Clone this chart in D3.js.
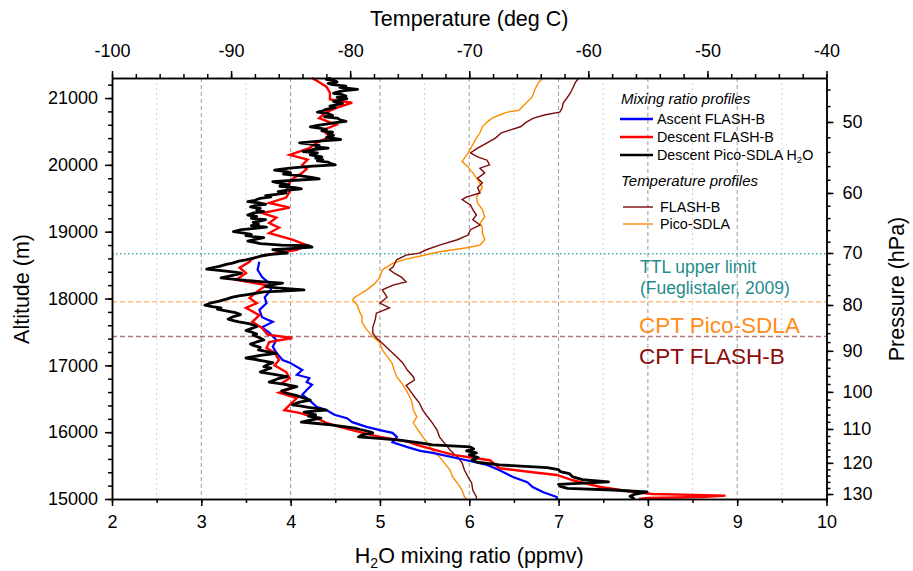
<!DOCTYPE html>
<html>
<head>
<meta charset="utf-8">
<script src="https://cdnjs.cloudflare.com/ajax/libs/d3/7.8.5/d3.min.js"></script>
<style>
body { margin: 0; background: #fff; }
text { font-family: "Liberation Sans", Arial, sans-serif; }
</style>
</head>
<body>
<div id="container"></div>
<script>
// profiles: [altitude (m), value]
var ascentFlashB = [
  [18550, 3.65], [18430, 3.63], [18320, 3.68], [18230, 3.76], [18130, 3.78], [18020, 3.71],
  [17930, 3.73], [17830, 3.65], [17720, 3.68], [17650, 3.80], [17570, 3.68], [17490, 3.76],
  [17380, 3.84], [17280, 3.80], [17190, 3.84], [17080, 3.91], [17040, 3.99], [16930, 4.13],
  [16860, 4.07], [16810, 4.21], [16750, 4.18], [16710, 4.24], [16630, 4.18], [16560, 4.13],
  [16480, 4.21], [16380, 4.29], [16330, 4.40], [16260, 4.49], [16210, 4.63], [16150, 4.69],
  [16080, 4.85], [16030, 5.00], [15990, 5.14], [15930, 5.19], [15850, 5.14], [15780, 5.30],
  [15720, 5.45], [15690, 5.59], [15580, 5.97], [15510, 6.20], [15430, 6.34], [15330, 6.49],
  [15250, 6.65], [15180, 6.71], [15100, 6.83], [15030, 6.98], [15000, 6.98]
];

var descentFlashB = [
  [21300, 4.24], [21230, 4.33], [21170, 4.40], [21080, 4.44], [20980, 4.44], [20930, 4.69],
  [20870, 4.55], [20790, 4.40], [20700, 4.32], [20600, 4.51], [20520, 4.36], [20420, 4.44],
  [20330, 4.29], [20250, 4.21], [20150, 3.99], [20080, 4.19], [20000, 4.13], [19940, 4.18],
  [19880, 4.13], [19780, 4.01], [19670, 3.96], [19600, 3.99], [19510, 3.95], [19430, 3.76],
  [19360, 3.99], [19280, 3.68], [19210, 3.84], [19130, 3.76], [19060, 3.87], [18980, 3.76],
  [18880, 4.02], [18800, 4.18], [18730, 4.07], [18650, 3.72], [18600, 3.57], [18550, 3.54],
  [18460, 3.43], [18380, 3.50], [18280, 3.39], [18200, 3.73], [18100, 3.62], [18010, 3.54],
  [17930, 3.62], [17860, 3.50], [17750, 3.65], [17650, 3.57], [17560, 3.68], [17460, 3.74],
  [17410, 4.02], [17350, 3.76], [17260, 3.73], [17190, 3.82], [17080, 3.87], [17000, 3.82],
  [16900, 3.95], [16810, 3.99], [16740, 3.91], [16660, 4.02], [16590, 3.87], [16510, 4.07],
  [16410, 3.99], [16330, 3.93], [16290, 4.10], [16210, 4.29], [16140, 4.40], [16080, 4.55],
  [16030, 4.69], [15990, 4.81], [15930, 5.00], [15880, 5.22], [15850, 5.33], [15810, 5.41],
  [15660, 5.82], [15580, 6.23], [15460, 6.34], [15400, 6.71], [15360, 6.98], [15280, 7.16],
  [15180, 7.47], [15105, 7.84], [15075, 8.05], [15050, 8.87], [15030, 8.60], [15015, 8.00],
  [15000, 7.90]
];

var descentPicoH2O = [
  [21300, 4.45], [21280, 4.40], [21260, 4.50], [21240, 4.52], [21220, 4.42], [21200, 4.47],
  [21180, 4.62], [21160, 4.55], [21130, 4.75], [21110, 4.60], [21090, 4.52], [21070, 4.48],
  [21050, 4.58], [21030, 4.62], [21010, 4.52], [20990, 4.63], [20970, 4.55], [20950, 4.48],
  [20920, 4.58], [20900, 4.52], [20880, 4.44], [20860, 4.50], [20830, 4.40], [20810, 4.36],
  [20790, 4.30], [20770, 4.42], [20740, 4.47], [20720, 4.38], [20700, 4.52], [20670, 4.56],
  [20650, 4.62], [20630, 4.48], [20610, 4.40], [20590, 4.30], [20570, 4.22], [20550, 4.32],
  [20530, 4.40], [20510, 4.35], [20490, 4.47], [20460, 4.42], [20440, 4.48], [20410, 4.40],
  [20380, 4.56], [20360, 4.35], [20330, 4.10], [20310, 4.22], [20290, 4.32], [20270, 4.28],
  [20250, 4.42], [20230, 4.25], [20200, 4.14], [20180, 4.30], [20150, 4.22], [20120, 4.35],
  [20100, 4.28], [20080, 4.36], [20060, 4.30], [20040, 4.42], [20020, 4.45], [20000, 4.50],
  [19980, 4.25], [19960, 4.05], [19940, 3.92], [19920, 3.82], [19900, 3.95], [19880, 4.00],
  [19860, 3.92], [19840, 4.10], [19810, 4.25], [19790, 4.32], [19770, 4.05], [19750, 3.80],
  [19720, 3.90], [19700, 3.98], [19680, 3.88], [19660, 4.05], [19640, 4.12], [19620, 3.95],
  [19600, 3.86], [19580, 3.95], [19560, 3.84], [19540, 3.72], [19520, 3.78], [19500, 3.66],
  [19470, 3.60], [19450, 3.52], [19430, 3.65], [19410, 3.72], [19390, 3.60], [19370, 3.55],
  [19350, 3.66], [19320, 3.62], [19300, 3.70], [19280, 3.58], [19250, 3.52], [19230, 3.62],
  [19200, 3.56], [19180, 3.72], [19160, 3.66], [19140, 3.58], [19110, 3.64], [19090, 3.56],
  [19070, 3.73], [19050, 3.60], [19030, 3.45], [19000, 3.36], [18980, 3.48], [18960, 3.56],
  [18940, 3.50], [18910, 3.70], [18890, 3.62], [18860, 3.52], [18840, 3.60], [18820, 3.66],
  [18800, 3.90], [18790, 4.20], [18770, 4.24], [18750, 4.05], [18730, 3.80], [18700, 3.92],
  [18680, 3.96], [18660, 3.78], [18640, 3.68], [18610, 3.60], [18580, 3.50], [18560, 3.42],
  [18530, 3.35], [18510, 3.28], [18480, 3.20], [18460, 3.12], [18440, 3.06], [18420, 3.20],
  [18400, 3.35], [18380, 3.45], [18360, 3.40], [18330, 3.30], [18310, 3.22], [18290, 3.35],
  [18270, 3.50], [18250, 3.70], [18230, 3.91], [18210, 3.82], [18180, 3.72], [18160, 3.85],
  [18130, 4.15], [18110, 3.90], [18100, 3.70], [18080, 3.62], [18060, 3.52], [18040, 3.42],
  [18020, 3.35], [17990, 3.28], [17960, 3.20], [17930, 3.10], [17900, 3.04], [17880, 3.12],
  [17860, 3.22], [17840, 3.18], [17820, 3.26], [17790, 3.38], [17760, 3.44], [17730, 3.36],
  [17690, 3.30], [17670, 3.36], [17650, 3.42], [17620, 3.55], [17580, 3.62], [17550, 3.56],
  [17520, 3.50], [17500, 3.56], [17470, 3.62], [17450, 3.58], [17420, 3.64], [17380, 3.70],
  [17350, 3.62], [17320, 3.55], [17300, 3.58], [17270, 3.66], [17230, 3.64], [17200, 3.75],
  [17180, 3.84], [17150, 3.66], [17110, 3.50], [17080, 3.64], [17040, 3.80], [17010, 3.74],
  [16980, 3.70], [16960, 3.78], [16930, 3.72], [16900, 3.66], [16870, 3.80], [16830, 3.96],
  [16800, 3.86], [16750, 3.76], [16720, 3.92], [16680, 4.07], [16650, 3.98], [16620, 3.90],
  [16590, 3.94], [16550, 4.06], [16510, 4.15], [16480, 4.22], [16450, 4.10], [16410, 4.02],
  [16390, 4.12], [16370, 4.20], [16350, 4.32], [16330, 4.40], [16310, 4.22], [16300, 4.15],
  [16280, 4.22], [16260, 4.28], [16240, 4.20], [16210, 4.34], [16180, 4.22], [16150, 4.12],
  [16130, 4.30], [16110, 4.45], [16080, 4.62], [16060, 4.72], [16040, 4.78], [16010, 4.88],
  [15990, 4.92], [15960, 4.80], [15930, 4.76], [15910, 4.95], [15880, 5.22], [15840, 5.45],
  [15810, 5.59], [15780, 6.01], [15750, 6.05], [15720, 5.97], [15690, 6.08], [15660, 6.00],
  [15620, 6.10], [15580, 6.03], [15550, 6.09], [15510, 6.34], [15470, 6.87], [15440, 7.00],
  [15410, 7.02], [15380, 7.12], [15330, 7.16], [15290, 7.27], [15255, 7.56], [15220, 7.00],
  [15190, 7.02], [15160, 7.10], [15135, 7.61], [15105, 7.99], [15070, 7.85], [15040, 7.80],
  [15010, 7.84], [15000, 7.84]
];

// temperature profiles: [altitude (m), deg C]
var tempFlashB = [
  [21300, -60.8], [21230, -61.1], [21150, -61.3], [21080, -61.5], [21000, -61.8], [20930, -62.1],
  [20850, -62.2], [20790, -62.4], [20750, -63.6], [20700, -64.6], [20640, -65.2], [20570, -65.7],
  [20520, -66.6], [20480, -67.3], [20400, -67.8], [20330, -68.5], [20250, -69.3], [20180, -69.9],
  [20120, -69.3], [20070, -68.5], [20000, -68.3], [19950, -69.1], [19880, -68.7], [19800, -69.3],
  [19730, -68.9], [19660, -69.3], [19580, -69.1], [19520, -70.2], [19480, -70.6], [19400, -69.9],
  [19330, -69.7], [19250, -69.4], [19180, -69.7], [19100, -69.1], [19030, -69.9], [18950, -70.1],
  [18880, -71.0], [18800, -72.5], [18730, -73.6], [18680, -74.2], [18650, -75.3], [18580, -76.1],
  [18470, -76.4], [18430, -76.7], [18380, -76.3], [18320, -75.7], [18250, -75.3], [18200, -76.4],
  [18130, -77.3], [18020, -76.9], [17930, -77.5], [17860, -76.7], [17780, -77.8], [17680, -77.9],
  [17570, -78.1], [17480, -78.1], [17410, -77.8], [17330, -77.3], [17230, -76.7], [17130, -76.1],
  [17040, -75.6], [16930, -75.2], [16830, -74.7], [16780, -74.6], [16700, -75.3], [16630, -75.0],
  [16530, -74.6], [16440, -74.2], [16330, -73.9], [16230, -73.5], [16140, -73.1], [16030, -72.7],
  [15930, -72.5], [15840, -72.1], [15730, -71.6], [15630, -71.0], [15540, -70.6], [15430, -70.4],
  [15330, -70.1], [15240, -69.8], [15130, -69.7], [15030, -69.4], [15000, -69.4]
];

var tempPico = [
  [21300, -63.8], [21230, -64.2], [21120, -64.5], [21020, -64.7], [20930, -65.2], [20820, -65.8],
  [20790, -66.8], [20750, -67.4], [20700, -68.1], [20640, -68.5], [20570, -68.9], [20480, -69.1],
  [20370, -69.5], [20270, -69.8], [20180, -70.1], [20100, -70.4], [20050, -70.6], [19970, -70.1],
  [19880, -69.7], [19780, -69.3], [19670, -68.9], [19600, -69.1], [19520, -69.4], [19430, -69.3],
  [19330, -68.9], [19220, -68.7], [19130, -69.1], [19060, -68.9], [18980, -68.9], [18880, -68.7],
  [18800, -69.1], [18760, -70.2], [18700, -72.5], [18640, -74.0], [18590, -75.3], [18530, -76.4],
  [18430, -77.3], [18320, -77.5], [18230, -77.9], [18130, -78.6], [18020, -79.6], [17980, -79.8],
  [17900, -79.4], [17800, -79.2], [17730, -79.0], [17640, -79.0], [17530, -78.6], [17430, -78.1],
  [17340, -77.5], [17230, -77.3], [17130, -76.9], [17040, -76.5], [16930, -76.3], [16830, -76.1],
  [16740, -75.7], [16630, -75.3], [16530, -75.0], [16440, -74.8], [16330, -74.7], [16230, -74.4],
  [16140, -74.7], [16030, -74.3], [15930, -73.9], [15840, -73.5], [15730, -73.1], [15630, -72.5],
  [15540, -72.1], [15430, -71.6], [15330, -71.4], [15240, -71.0], [15130, -70.6], [15030, -70.4],
  [15000, -70.2]
];

// reference levels (m)
var ttlAltitude = 18670;
var cptPicoAltitude = 17950;
var cptFlashAltitude = 17430;

// ticks
var altTicks = [15000, 16000, 17000, 18000, 19000, 20000, 21000];
var mixTicks = [2, 3, 4, 5, 6, 7, 8, 9, 10];
var tempTicks = [-100, -90, -80, -70, -60, -50, -40];
var pressureTicks = [50, 60, 70, 80, 90, 100, 110, 120, 130];

var width = 913, height = 571;
var margin = {top: 78, right: 86.5, bottom: 72, left: 112};
var w = width - margin.left - margin.right,
    h = height - margin.top - margin.bottom;

var svg = d3.select("#container").append("svg")
    .attr("width", width)
    .attr("height", height);

var g = svg.append("g")
    .attr("transform", "translate(" + margin.left + "," + margin.top + ")");

var x = d3.scaleLinear().domain([2, 10]).range([0, w]);
var xT = d3.scaleLinear().domain([-100, -40]).range([0, w]);
var y = d3.scaleLinear().domain([15000, 21300]).range([h, 0]);
var yP = d3.scaleLog().domain([44.66, 131.67]).range([0, h]);

// vertical grid: dashed at integers, light dotted at halves
var gridVals = d3.range(2.5, 10, 0.5);
g.selectAll(".grid").data(gridVals).enter().append("line")
    .attr("x1", function(d) { return x(d); })
    .attr("x2", function(d) { return x(d); })
    .attr("y1", 0).attr("y2", h)
    .attr("stroke", function(d) { return d % 1 === 0 ? "#9a9a9a" : "#d2d2d2"; })
    .attr("stroke-width", 1)
    .attr("stroke-dasharray", function(d) { return d % 1 === 0 ? "4,3" : "2,3"; });

// horizontal reference levels
g.append("line").attr("x1", 0).attr("x2", w)
    .attr("y1", y(ttlAltitude)).attr("y2", y(ttlAltitude))
    .attr("stroke", "#45a9a9").attr("stroke-width", 1.3).attr("stroke-dasharray", "1.5,2.5");
g.append("line").attr("x1", 0).attr("x2", w)
    .attr("y1", y(cptPicoAltitude)).attr("y2", y(cptPicoAltitude))
    .attr("stroke", "#ffbb80").attr("stroke-width", 1.5).attr("stroke-dasharray", "5,3");
g.append("line").attr("x1", 0).attr("x2", w)
    .attr("y1", y(cptFlashAltitude)).attr("y2", y(cptFlashAltitude))
    .attr("stroke", "#b57a7a").attr("stroke-width", 1.5).attr("stroke-dasharray", "5,3");

var mixLine = d3.line()
    .x(function(d) { return x(d[1]); })
    .y(function(d) { return y(d[0]); });
var tempLine = d3.line()
    .x(function(d) { return xT(d[1]); })
    .y(function(d) { return y(d[0]); });

var plot = g.append("g");

plot.append("path").datum(tempPico)
    .attr("d", tempLine).attr("fill", "none")
    .attr("stroke", "#ff8c00").attr("stroke-width", 1.4);
plot.append("path").datum(tempFlashB)
    .attr("d", tempLine).attr("fill", "none")
    .attr("stroke", "#7b0a0a").attr("stroke-width", 1.4);

plot.append("path").datum(ascentFlashB)
    .attr("d", mixLine).attr("fill", "none")
    .attr("stroke", "#0000ff").attr("stroke-width", 2.2);
plot.append("path").datum(descentFlashB)
    .attr("d", mixLine).attr("fill", "none")
    .attr("stroke", "#ff0000").attr("stroke-width", 2.4);
plot.append("path").datum(descentPicoH2O)
    .attr("d", mixLine).attr("fill", "none")
    .attr("stroke", "#000").attr("stroke-width", 2.8)
    .attr("stroke-linejoin", "round");

// axes
function styleAxis(sel) {
  sel.selectAll("path, line").attr("stroke", "#000").attr("stroke-width", 1.5);
  sel.selectAll("text").attr("font-size", "18px").attr("fill", "#000")
     .attr("font-family", "'Liberation Sans', Arial, sans-serif");
}

var minorOpts = function(axis) { return axis.tickSize(4).tickFormat("").tickSizeOuter(0); };
var plain = function(d) { return String(d); };

g.append("g").attr("transform", "translate(0," + h + ")")
    .call(minorOpts(d3.axisBottom(x).tickValues(d3.range(2, 10.01, 0.5)))).call(styleAxis);
g.append("g").attr("transform", "translate(0," + h + ")")
    .call(d3.axisBottom(x).tickValues(mixTicks).tickSize(7).tickPadding(9).tickSizeOuter(0)
      .tickFormat(plain))
    .call(styleAxis);

g.append("g")
    .call(minorOpts(d3.axisTop(xT).tickValues(d3.range(-100, -39.9, 2)))).call(styleAxis);
g.append("g")
    .call(d3.axisTop(xT).tickValues(tempTicks).tickSize(7).tickPadding(14).tickSizeOuter(0)
      .tickFormat(plain))
    .call(styleAxis);

g.append("g")
    .call(minorOpts(d3.axisLeft(y).tickValues(d3.range(15000, 21301, 200)))).call(styleAxis);
g.append("g")
    .call(d3.axisLeft(y).tickValues(altTicks).tickSize(7).tickPadding(7).tickSizeOuter(0)
      .tickFormat(plain))
    .call(styleAxis);

g.append("g").attr("transform", "translate(" + w + ",0)")
    .call(minorOpts(d3.axisRight(yP).tickValues(d3.range(46, 131, 2)))).call(styleAxis);
g.append("g").attr("transform", "translate(" + w + ",0)")
    .call(d3.axisRight(yP).tickValues(pressureTicks).tickSize(7).tickPadding(9).tickSizeOuter(0)
      .tickFormat(plain))
    .call(styleAxis);

// axis titles
svg.append("text").attr("x", margin.left + w / 2).attr("y", 26)
    .attr("text-anchor", "middle").attr("font-size", "21.5px").text("Temperature (deg C)");

var bt = svg.append("text").attr("x", margin.left + w / 2).attr("y", 563)
    .attr("text-anchor", "middle").attr("font-size", "21.5px");
bt.append("tspan").text("H");
bt.append("tspan").attr("font-size", "14px").attr("dy", 5).text("2");
bt.append("tspan").attr("dy", -5).text("O mixing ratio (ppmv)");

svg.append("text").attr("transform", "translate(29,289) rotate(-90)")
    .attr("text-anchor", "middle").attr("font-size", "21.5px").text("Altitude (m)");
svg.append("text").attr("transform", "translate(904,289) rotate(-90)")
    .attr("text-anchor", "middle").attr("font-size", "21.5px").text("Pressure (hPa)");

// legend
var lg = svg.append("g");
lg.append("text").attr("x", 621).attr("y", 104).attr("font-size", "15px")
    .attr("font-style", "italic").text("Mixing ratio profiles");

var legMix = [
  {label: "Ascent FLASH-B", color: "#0000ff", y: 119},
  {label: "Descent FLASH-B", color: "#ff0000", y: 137},
  {label: "Descent Pico-SDLA H", color: "#000", y: 155}
];
legMix.forEach(function(d, i) {
  lg.append("line").attr("x1", 620).attr("x2", 653).attr("y1", d.y).attr("y2", d.y)
      .attr("stroke", d.color).attr("stroke-width", 2.5);
  var t = lg.append("text").attr("x", 657).attr("y", d.y + 5).attr("font-size", "14.3px").text(d.label);
  if (i === 2) {
    t.append("tspan").attr("font-size", "9.5px").attr("dy", 3).text("2");
    t.append("tspan").attr("dy", -3).text("O");
  }
});

lg.append("text").attr("x", 621).attr("y", 186).attr("font-size", "15px")
    .attr("font-style", "italic").text("Temperature profiles");

var legTemp = [
  {label: "FLASH-B", color: "#7b0a0a", y: 207},
  {label: "Pico-SDLA", color: "#ff8c00", y: 224}
];
legTemp.forEach(function(d) {
  lg.append("line").attr("x1", 623).attr("x2", 653).attr("y1", d.y).attr("y2", d.y)
      .attr("stroke", d.color).attr("stroke-width", 1.4);
  lg.append("text").attr("x", 660).attr("y", d.y + 5).attr("font-size", "14.3px").text(d.label);
});

// annotations
svg.append("text").attr("x", 640).attr("y", 273).attr("font-size", "17.5px")
    .attr("fill", "#1f8c8c").text("TTL upper limit");
svg.append("text").attr("x", 640).attr("y", 294).attr("font-size", "17.5px")
    .attr("fill", "#1f8c8c").text("(Fueglistaler, 2009)");
svg.append("text").attr("x", 639).attr("y", 333).attr("font-size", "22.5px")
    .attr("fill", "#ff8c1a").text("CPT Pico-SDLA");
svg.append("text").attr("x", 639).attr("y", 364).attr("font-size", "22.5px")
    .attr("fill", "#8b0a0a").text("CPT FLASH-B");
</script>
</body>
</html>
